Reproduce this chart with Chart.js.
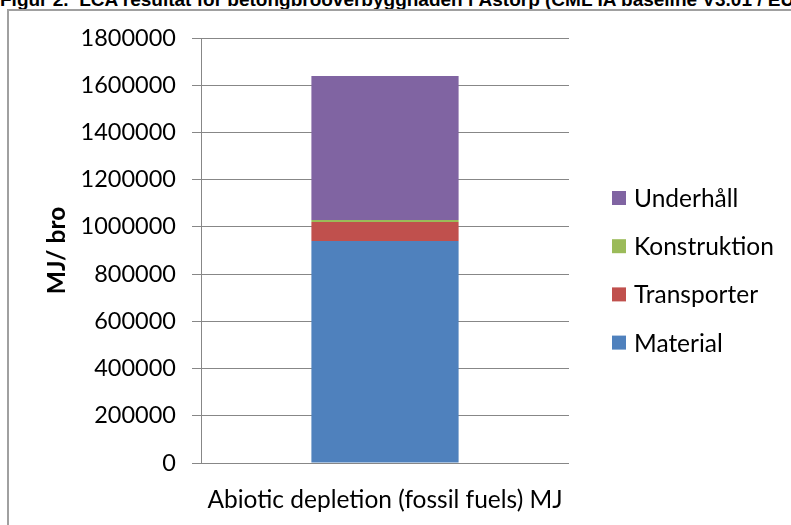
<!DOCTYPE html>
<html>
<head>
<meta charset="utf-8">
<script src="https://cdn.jsdelivr.net/npm/chart.js@4"></script>
<style>
  html, body { margin: 0; padding: 0; background: #fff; overflow: hidden; }
  #wrap { position: relative; width: 791px; height: 525px; overflow: hidden; background: #fff; }
  #caption {
    position: absolute; left: 0; top: -10px;
    font: bold 19px "Liberation Sans", Arial, sans-serif; line-height: 19px;
    white-space: pre; color: #000;
  }
  #frame {
    position: absolute; left: 7px; top: 9px; width: 900px; height: 600px;
    border-left: 2px solid #a0a0a0; border-top: 2px solid #a0a0a0;
  }
  canvas { position: absolute; left: 0; top: 0; }
</style>
</head>
<body>
<div id="wrap">
  <div id="caption">Figur 2.  LCA resultat för betongbroöverbyggnaden i Åstorp (CML IA baseline V3.01 / EU25)</div>
  <div id="frame"></div>
  <canvas id="c" width="791" height="525"></canvas>
</div>
<script>
// Abiotic depletion (fossil fuels), MJ per bridge, split by life-cycle stage
const categories = ['Abiotic depletion (fossil fuels) MJ'];
const seriesNames = ['Material', 'Transporter', 'Konstruktion', 'Underhåll'];
const material = [940000];
const transporter = [81000];
const konstruktion = [8000];
const underhall = [610000];
const yTicks = [0, 200000, 400000, 600000, 800000, 1000000, 1200000, 1400000, 1600000, 1800000];
const seriesColors = ['#4F81BD', '#C0504D', '#9BBB59', '#8064A2'];

const FONT = 'Lato';
const GRID = '#878787';

// Legend on the right, listed top-down from the highest stack segment
const sideLegend = {
  id: 'sideLegend',
  afterDraw(chart) {
    const ctx = chart.ctx;
    const ds = chart.data.datasets;
    const x0 = chart.chartArea.right + 43;
    ctx.save();
    ctx.font = '24.5px ' + FONT;
    ctx.textBaseline = 'middle';
    ctx.textAlign = 'left';
    for (let i = 0; i < ds.length; i++) {
      const d = ds[ds.length - 1 - i];
      const cy = 198 + i * 48.2;
      ctx.fillStyle = d.backgroundColor;
      ctx.fillRect(x0, cy - 7, 14, 14);
      ctx.fillStyle = '#000';
      ctx.fillText(d.label, x0 + 22, cy + 1);
    }
    ctx.restore();
  }
};

function draw() {
  const values = [material, transporter, konstruktion, underhall];
  new Chart(document.getElementById('c'), {
    type: 'bar',
    data: {
      labels: categories,
      datasets: seriesNames.map((name, i) => ({
        label: name,
        data: values[i],
        backgroundColor: seriesColors[i],
        borderWidth: 0,
        categoryPercentage: 0.8,
        barPercentage: 0.5
      }))
    },
    options: {
      responsive: false,
      animation: false,
      devicePixelRatio: 1,
      layout: { padding: { left: 8, top: 38, right: 222, bottom: 0 } },
      plugins: {
        legend: { display: false },
        tooltip: { enabled: false }
      },
      scales: {
        x: {
          stacked: true,
          afterFit: s => { s.height = 62; },
          grid: { display: false, drawTicks: false },
          border: { display: false },
          ticks: { color: '#000', font: { family: FONT, size: 24.5 }, padding: 22 }
        },
        y: {
          stacked: true,
          min: 0,
          max: 1800000,
          afterBuildTicks: s => { s.ticks = yTicks.map(v => ({ value: v })); },
          afterFit: s => { s.width = 193; },
          grid: { color: GRID, lineWidth: 1, tickLength: 9 },
          border: { display: true, color: GRID, width: 1 },
          ticks: {
            color: '#000',
            font: { family: FONT, size: 23.5 },
            padding: 16,
            callback: v => String(v)
          },
          title: {
            display: true,
            text: 'MJ/ bro',
            color: '#000',
            font: { family: FONT, size: 24.5, weight: 'bold' },
            padding: { top: 34.3, bottom: 0 }
          }
        }
      }
    },
    plugins: [sideLegend]
  });
}

Promise.all([
  document.fonts.load('22px ' + FONT),
  document.fonts.load('bold 22px ' + FONT)
]).then(draw, draw);
</script>
</body>
</html>
